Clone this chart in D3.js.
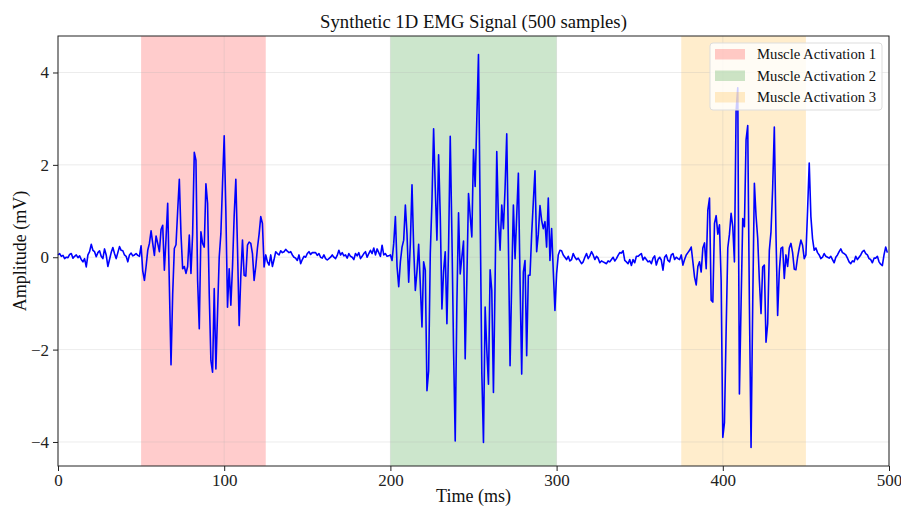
<!DOCTYPE html>
<html lang="en">
<head>
  <meta charset="UTF-8" />
  <title>Synthetic 1D EMG Signal</title>
  <script src="https://d3js.org/d3.v7.min.js"></script>
  <style>
    html, body { margin: 0; background: #fff; }
    svg { display: block; font-family: "Liberation Serif", "Times New Roman", serif; }
    .grid line { stroke: #b0b0b0; stroke-opacity: 0.3; stroke-width: 0.8px; }
    .axis path, .axis line { stroke: #222; }
    .axis text { font-size: 17px; fill: #222; font-family: "Liberation Serif", serif; }
  </style>
</head>
<body>
  <svg id="chart" width="901" height="507"></svg>

  <script>
    // ----- data (mV, one value per ms sample) -----
    const quiet0 = [0.05, 0.08, 0.02, 0.04, -0.03, 0.0, -0.01, 0.06, 0.08, -0.02,
      0.02, 0.05, -0.01, 0.03, -0.05, -0.1, -0.03, -0.21, 0.05, 0.12,
      0.28, 0.15, 0.12, 0.01, 0.1, 0.14, 0.02, -0.03, 0.18, 0.05,
      -0.2, -0.05, 0.1, 0.21, 0.08, -0.03, 0.1, 0.23, 0.15, 0.14,
      0.05, 0.02, -0.1, 0.05, 0.09, 0.03, 0.05, 0.08, 0.04, 0.02];
    const burst1 = [0.25, -0.3, -0.5, -0.2, 0.15, 0.3, 0.57, 0.3, 0.04, 0.46,
      0.3, 0.12, 0.6, 0.69, -0.28, 0.4, 1.17, -0.6, -2.33, -0.8,
      0.19, 0.27, 1.0, 1.69, 0.5, -0.25, -0.2, -0.35, -0.2, 0.48,
      -0.35, 0.5, 2.27, 2.1, -0.5, -1.55, 0.55, 0.3, 0.22, 1.59,
      1.17, -0.8, -2.24, -2.49, -0.68, -2.42, -1.2, 0.0, 0.51, 1.6,
      2.63, 1.0, -1.08, -0.25, -1.04, -0.2, 0.9, 1.69, 0.2, -1.48,
      -0.4, 0.37, -0.39, -0.41, 0.26, 0.33, 0.3, 0.08, -0.5, -0.2,
      0.2, 0.5, 0.88, 0.73, -0.21, 0.05];
    const quiet1 = [-0.1, -0.17, 0.05, -0.2, -0.05, 0.12, 0.08, 0.05, 0.14, 0.1,
      0.12, 0.17, 0.13, 0.1, 0.12, 0.05, 0.0, -0.02, -0.07, 0.05,
      -0.14, -0.05, 0.02, 0.0, 0.08, 0.12, 0.06, 0.1, 0.1, 0.1,
      0.04, 0.08, 0.0, -0.02, 0.05, -0.03, -0.06, -0.03, 0.0, 0.05,
      0.0, -0.03, 0.04, 0.15, 0.05, 0.1, 0.03, 0.05, -0.02, 0.08,
      0.02, 0.0, -0.05, 0.08, 0.03, 0.1, -0.03, 0.02, 0.08, 0.12,
      0.0, 0.08, 0.15, 0.08, 0.2, 0.05, 0.18, 0.1, 0.02, 0.26,
      0.05, 0.08, 0.02, 0.03];
    const burst2 = [0.05, -0.07, 0.3, 0.88, -0.2, -0.64, -0.1, 0.22, 0.37, 1.13,
      0.5, -0.54, 0.3, 1.57, 0.2, -0.72, -0.3, 0.28, -0.6, -1.51,
      -0.1, -0.28, -2.89, -2.46, 0.08, 1.2, 2.78, 1.5, 0.37, 2.22,
      0.9, -1.12, -0.3, 0.12, -1.44, 0.2, 2.62, 0.5, -2.0, -3.98,
      -1.0, 0.96, -0.36, 0.0, 0.35, -2.2, -0.5, 1.38, 0.9, 0.44,
      2.33, 1.53, 3.0, 4.39, 1.0, -2.5, -4.01, -1.08, -2.0, -2.75,
      -0.27, -0.72, -2.93, -0.5, 2.29, 0.8, 0.15, 1.13, 0.62, 1.5,
      2.67, 0.3, -2.35, -0.5, 1.13, -0.03, 0.9, 1.82, -0.5, -2.53,
      -0.32, -0.07, -2.13, -0.39, -0.39, 0.5, 1.2, 1.87, 0.12, 0.5,
      1.12, 0.8, 0.62, 0.77, 0.22, 1.28, -0.07, 0.62, -0.3, -1.15,
      -0.36, 0.05, 0.15];
    const quiet2 = [0.14, 0.05, 0.0, -0.05, 0.02, -0.08, -0.05, 0.08, 0.0, -0.05,
      -0.02, -0.08, -0.14, -0.1, 0.0, 0.08, -0.03, 0.03, 0.12, 0.05,
      -0.05, 0.02, -0.02, -0.12, -0.08, -0.1, -0.12, -0.14, -0.08, -0.1,
      -0.05, 0.0, -0.08, -0.03, 0.04, 0.1, 0.09, 0.14, -0.07, -0.1,
      -0.14, -0.05, -0.18, -0.05, -0.12, 0.02, 0.02, 0.05, 0.08, -0.06,
      0.0, -0.05, -0.1, -0.08, -0.14, -0.02, 0.03, -0.17, -0.05, 0.0,
      -0.06, -0.28, 0.0, 0.05, -0.07];
    const burst3 = [-0.1, 0.05, 0.08, -0.05, 0.0, -0.03, -0.05, 0.05, -0.17, -0.05,
      0.05, 0.1, 0.15, 0.22, -0.1, -0.43, -0.6, -0.2, -0.1, -0.32,
      0.2, 0.31, -0.25, 1.02, 1.28, -0.93, -0.97, 0.73, 0.9, 0.5,
      0.7, -0.5, -3.9, -3.58, -1.6, 0.2, 0.5, 0.95, 0.66, -0.1,
      3.16, 3.67, -2.96, -1.0, 0.84, 0.66, 2.54, 2.85, -1.0, -4.12,
      -1.0, 1.6, 0.9, 0.41, -0.5, -1.22, -0.21, -0.17, -1.84, -1.44,
      0.15, 0.55, 1.5, 2.82, 0.5, -1.26, -0.3, 0.19, 0.22, -0.46,
      0.05, -0.2, 0.2, 0.3, 0.1, -0.26, -0.27, 0.0, 0.2, 0.37,
      0.26, -0.03, 0.05, 1.0, 2.04, 0.88, 0.4, 0.15, 0.2, 0.1];
    const quiet3 = [0.05, -0.03, 0.0, 0.08, 0.02, 0.0, -0.02, 0.02, -0.05, -0.12,
      0.0, 0.05, 0.12, 0.18, 0.1, 0.08, 0.05, -0.02, -0.1, -0.14,
      -0.08, -0.1, 0.02, -0.05, 0.0, 0.05, 0.12, 0.15, 0.08, 0.05,
      -0.03, -0.05, -0.12, -0.02, -0.02, 0.02, -0.1, -0.15, -0.18, 0.05,
      0.22, 0.1];

    const signal = [].concat(quiet0, burst1, quiet1, burst2, quiet2, burst3, quiet3);

    const activations = [
      {label: 'Muscle Activation 1', start: 50, end: 125},
      {label: 'Muscle Activation 2', start: 200, end: 300},
      {label: 'Muscle Activation 3', start: 375, end: 450}
    ];
    const activationColors = ['#ff0000', '#008000', '#ffa500'];
    const xTicks = [0, 100, 200, 300, 400, 500];
    const yTicks = [-4, -2, 0, 2, 4];

    // ----- layout -----
    const W = 901, H = 507;
    const margin = {top: 36, right: 12, bottom: 41, left: 58};
    const svg = d3.select('#chart');

    const x = d3.scaleLinear().domain([0, 500]).range([margin.left, W - margin.right]);
    const y = d3.scaleLinear().domain([-4.52, 4.79]).range([H - margin.bottom, margin.top]);

    // shaded activation windows
    svg.append('g')
      .selectAll('rect')
      .data(activations)
      .enter().append('rect')
        .attr('x', d => x(d.start))
        .attr('width', d => x(d.end) - x(d.start))
        .attr('y', margin.top)
        .attr('height', y.range()[0] - margin.top)
        .attr('fill', (d, i) => activationColors[i])
        .attr('fill-opacity', 0.2);

    // grid
    const grid = svg.append('g').attr('class', 'grid');
    grid.selectAll('.gx')
      .data(xTicks)
      .enter().append('line')
        .attr('x1', d => x(d)).attr('x2', d => x(d))
        .attr('y1', margin.top).attr('y2', H - margin.bottom);
    grid.selectAll('.gy')
      .data(yTicks)
      .enter().append('line')
        .attr('y1', d => y(d)).attr('y2', d => y(d))
        .attr('x1', margin.left).attr('x2', W - margin.right);

    // signal line
    const line = d3.line()
      .x((d, i) => x(i))
      .y(d => y(d));
    svg.append('path')
      .datum(signal)
      .attr('d', line)
      .attr('fill', 'none')
      .attr('stroke', '#0000ff')
      .attr('stroke-width', 1.6)
      .attr('stroke-linejoin', 'round');

    // frame
    svg.append('rect')
      .attr('x', margin.left).attr('y', margin.top)
      .attr('width', W - margin.left - margin.right)
      .attr('height', H - margin.top - margin.bottom)
      .attr('fill', 'none')
      .attr('stroke', '#222')
      .attr('stroke-width', 1);

    // axes
    const fmt = d => d < 0 ? '\u2212' + Math.abs(d) : d;
    svg.append('g')
      .attr('class', 'axis')
      .attr('transform', `translate(0,${H - margin.bottom})`)
      .call(d3.axisBottom(x).tickValues(xTicks).tickSize(5).tickPadding(3).tickFormat(fmt))
      .call(g => g.select('.domain').remove());
    svg.append('g')
      .attr('class', 'axis')
      .attr('transform', `translate(${margin.left},0)`)
      .call(d3.axisLeft(y).tickValues(yTicks).tickSize(5).tickPadding(4).tickFormat(fmt))
      .call(g => g.select('.domain').remove());

    // labels
    svg.append('text')
      .attr('x', (margin.left + W - margin.right) / 2)
      .attr('y', 28)
      .attr('text-anchor', 'middle')
      .attr('font-size', 18.7)
      .attr('fill', '#111')
      .text('Synthetic 1D EMG Signal (500 samples)');
    svg.append('text')
      .attr('x', (margin.left + W - margin.right) / 2)
      .attr('y', 502)
      .attr('text-anchor', 'middle')
      .attr('font-size', 18)
      .attr('fill', '#111')
      .text('Time (ms)');
    svg.append('text')
      .attr('transform', `translate(26,${(margin.top + H - margin.bottom) / 2}) rotate(-90)`)
      .attr('text-anchor', 'middle')
      .attr('font-size', 18)
      .attr('fill', '#111')
      .text('Amplitude (mV)');

    // legend
    const lg = svg.append('g').attr('transform', 'translate(710,43)');
    lg.append('rect')
      .attr('width', 172).attr('height', 67)
      .attr('rx', 3)
      .attr('fill', '#fff').attr('fill-opacity', 0.8)
      .attr('stroke', '#ddd');
    const item = lg.selectAll('.item')
      .data(activations)
      .enter().append('g')
        .attr('transform', (d, i) => `translate(0,${11 + i * 21.5})`);
    item.append('rect')
      .attr('x', 5).attr('y', -5)
      .attr('width', 30).attr('height', 10.5)
      .attr('fill', (d, i) => activationColors[i])
      .attr('fill-opacity', 0.2);
    item.append('text')
      .attr('x', 47).attr('y', 5)
      .attr('font-size', 14.7)
      .attr('fill', '#111')
      .text(d => d.label);
  </script>
</body>
</html>
